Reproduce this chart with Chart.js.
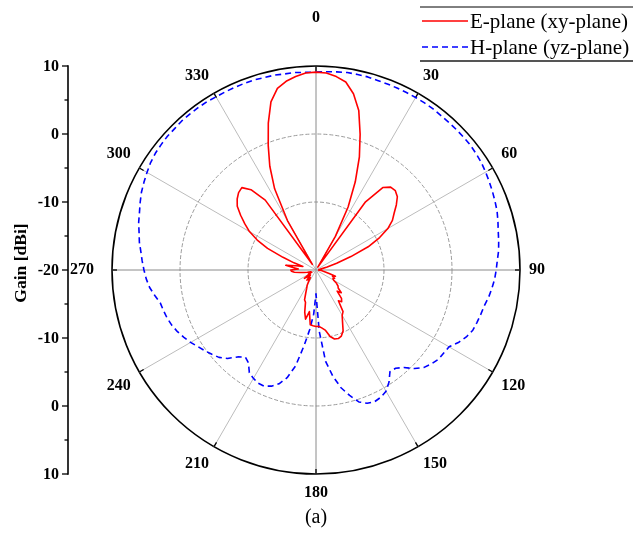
<!DOCTYPE html>
<html>
<head>
<meta charset="utf-8">
<script src="https://cdn.jsdelivr.net/npm/chart.js@4.4.1/dist/chart.umd.min.js"></script>
<style>
html,body{margin:0;padding:0;background:#fff;overflow:hidden}
#wrap{position:relative;width:633px;height:536px;overflow:hidden;background:#fff}
#c{position:absolute;left:0;top:-5px;width:633px;height:541px}
</style>
</head>
<body>
<div id="wrap"><canvas id="c" width="633" height="541"></canvas></div>
<script>
// ---- data (angle in degrees, gain in dBi) ----
const ANGLES = [0,3,6,9,12,15,18,21,24,27,30,33,36,39,42,45,48,51,54,57,
  60,63,66,69,72,75,78,81,84,87,90,93,96,99,102,105,108,111,114,117,
  120,123,126,129,132,135,138,141,144,147,150,153,156,159,162,165,168,171,174,177,
  180,183,186,189,192,195,198,201,204,207,210,213,216,219,222,225,228,231,234,237,
  240,243,246,249,252,255,258,261,264,267,270,273,276,279,282,285,288,291,294,297,
  300,303,306,309,312,315,318,321,324,327,330,333,336,339,342,345,348,351,354,357];

const ANGLE_TICKS = ['0','30','60','90','120','150','180','210','240','270','300','330'];

const E_PLANE = [9.1,9.0,8.6,8.0,6.5,4.3,1.0,-2.2,-5.8,-9.6,-14.3,-19.5,-7.6,-4.4,-3.6,-3.5,-3.9,-4.8,-5.8,-6.6,
  -7.8,-9.5,-11.6,-14.5,-16.8,-18.3,-19.2,-19.5,-19.3,-19.6,-19.4,-19.6,-19.2,-19.0,-18.6,-18.0,-17.0,-17.4,-17.0,-17.2,
  -17.0,-16.4,-16.0,-15.8,-15.0,-15.6,-14.4,-14.0,-14.4,-12.7,-12.3,-11.4,-10.2,-9.6,-9.4,-9.5,-10.0,-11.0,-11.4,-11.7,
  -11.7,-11.8,-11.9,-13.8,-12.6,-13.6,-15.0,-15.3,-16.3,-17.0,-17.4,-18.0,-18.6,-18.3,-18.0,-18.6,-18.9,-18.4,-17.9,-18.6,
  -19.0,-19.3,-19.0,-18.8,-19.2,-18.7,-18.2,-17.6,-16.8,-16.4,-16.3,-17.4,-16.6,-15.5,-17.0,-18.0,-16.6,-14.8,-12.2,-10.3,
  -8.7,-7.5,-6.3,-5.1,-4.4,-3.9,-3.7,-4.8,-7.3,-19.0,-11.6,-6.6,-3.3,-0.4,2.7,5.6,7.3,8.1,8.6,9.0];

const H_PLANE = [9.1,9.2,9.3,9.4,9.4,9.4,9.3,9.3,9.3,9.3,9.3,9.3,9.3,9.2,9.2,9.2,9.2,9.2,9.1,9.0,
  8.8,8.6,8.4,8.2,8.0,7.7,7.4,7.2,7.0,6.7,6.5,6.3,6.0,5.7,5.3,5.1,4.9,4.7,4.2,3.5,
  2.6,2.4,2.3,1.9,1.4,0.5,-0.7,-1.4,-1.5,-0.3,0.6,1.0,1.2,1.0,0.4,-0.9,-2.3,-4.2,-6.5,-11.0,
  -16.5,-13.5,-11.2,-8.7,-5.6,-3.6,-2.4,-1.7,-1.3,-1.3,-1.6,-2.0,-3.1,-3.5,-2.8,-1.6,-0.8,-0.3,0.2,0.7,
  1.3,1.8,2.3,2.7,3.0,3.2,3.4,4.0,4.6,5.0,5.3,5.6,5.9,6.3,6.6,7.0,7.3,7.7,8.1,8.4,
  8.7,9.0,9.2,9.3,9.4,9.4,9.5,9.5,9.5,9.5,9.4,9.4,9.4,9.4,9.4,9.3,9.3,9.2,9.2,9.1];

const GAIN_TICKS = [10, 0, -10, -20];
const GAIN_MINOR = [5, -5, -15];
const SERIES_NAMES = ['E-plane (xy-plane)', 'H-plane (yz-plane)'];
const AXIS_TITLE = 'Gain [dBi]';
const CAPTION = '(a)';

// ---- styling / layout ----
const OFFSET = 5;           // canvas is shifted up by 5px inside the page
const SERIF = "'Liberation Serif','Times New Roman',serif";

function labelPadding(ctx) {
  const a = ANGLES[ctx.index];
  if (a % 30 !== 0) return 0;
  if (a === 0) return 39;
  if (a === 270) return 18;
  if (a === 90) return 9;
  return 10;
}

const decorations = {
  id: 'decorations',
  beforeDatasetsDraw(chart) {
    const s = chart.scales.r, ctx = chart.ctx;
    const R = s.getDistanceFromCenterForValue(10);
    ctx.save();
    ctx.strokeStyle = '#000';
    ctx.lineWidth = 1.3;
    ANGLES.forEach((a, i) => {
      if (a % 30 !== 0) return;
      const p1 = s.getPointPosition(i, R - 5);
      const p2 = s.getPointPosition(i, R);
      ctx.beginPath();
      ctx.moveTo(p1.x, p1.y);
      ctx.lineTo(p2.x, p2.y);
      ctx.stroke();
    });
    ctx.restore();
  },
  afterDraw(chart) {
    const s = chart.scales.r, ctx = chart.ctx;
    const yc = s.yCenter;
    const ax = 68;
    ctx.save();
    // left gain axis
    const top = yc - s.getDistanceFromCenterForValue(10);
    const bot = yc + s.getDistanceFromCenterForValue(10);
    ctx.strokeStyle = '#000';
    ctx.lineWidth = 1.6;
    ctx.beginPath();
    ctx.moveTo(ax, top - 0.8);
    ctx.lineTo(ax, bot + 0.8);
    ctx.stroke();
    ctx.lineWidth = 1.3;
    ctx.font = 'bold 16px ' + SERIF;
    ctx.fillStyle = '#000';
    ctx.textAlign = 'right';
    ctx.textBaseline = 'middle';
    GAIN_TICKS.forEach(v => {
      const d = s.getDistanceFromCenterForValue(v);
      [yc - d, yc + d].forEach((y, k) => {
        if (k === 1 && d === 0) return;
        ctx.beginPath();
        ctx.moveTo(ax - 6, y);
        ctx.lineTo(ax, y);
        ctx.stroke();
        ctx.fillText(String(v), ax - 9, y + 1);
      });
    });
    GAIN_MINOR.forEach(v => {
      const d = s.getDistanceFromCenterForValue(v);
      [yc - d, yc + d].forEach(y => {
        ctx.beginPath();
        ctx.moveTo(ax - 3.5, y);
        ctx.lineTo(ax, y);
        ctx.stroke();
      });
    });
    // axis title
    ctx.save();
    ctx.translate(21, yc - 7);
    ctx.rotate(-Math.PI / 2);
    ctx.textAlign = 'center';
    ctx.font = 'bold 17.5px ' + SERIF;
    ctx.fillText(AXIS_TITLE, 0, 0);
    ctx.restore();

    // caption
    ctx.textAlign = 'center';
    ctx.font = '20px ' + SERIF;
    ctx.fillText(CAPTION, s.xCenter, 518 + OFFSET);

    // legend
    const lx = 420;
    ctx.strokeStyle = '#000';
    ctx.lineWidth = 1;
    ctx.beginPath();
    ctx.moveTo(lx, 7 + OFFSET);
    ctx.lineTo(633, 7 + OFFSET);
    ctx.stroke();
    ctx.strokeStyle = '#555';
    ctx.lineWidth = 2;
    ctx.beginPath();
    ctx.moveTo(lx, 61 + OFFSET);
    ctx.lineTo(633, 61 + OFFSET);
    ctx.stroke();
    const rows = [21, 47];
    chart.data.datasets.forEach((ds, i) => {
      const y = rows[i] + OFFSET;
      ctx.strokeStyle = ds.borderColor;
      ctx.lineWidth = 1.5;
      ctx.setLineDash(ds.borderDash || []);
      ctx.beginPath();
      ctx.moveTo(422, y);
      ctx.lineTo(468, y);
      ctx.stroke();
      ctx.setLineDash([]);
      ctx.fillStyle = '#000';
      ctx.textAlign = 'left';
      ctx.font = '21px ' + SERIF;
      ctx.fillText(ds.label, 470, y + 1);
    });
    ctx.restore();
  }
};

new Chart(document.getElementById('c'), {
  type: 'radar',
  data: {
    labels: ANGLES,
    datasets: [
      {
        label: SERIES_NAMES[0],
        data: E_PLANE,
        borderColor: '#ff0000',
        borderWidth: 1.6,
        fill: false,
        pointRadius: 0,
        tension: 0,
        borderJoinStyle: 'round'
      },
      {
        label: SERIES_NAMES[1],
        data: H_PLANE,
        borderColor: '#0000ff',
        borderWidth: 1.6,
        borderDash: [6, 4],
        fill: false,
        pointRadius: 0,
        tension: 0,
        borderJoinStyle: 'round'
      }
    ]
  },
  options: {
    responsive: false,
    animation: false,
    devicePixelRatio: 1,
    layout: { padding: { top: 0, bottom: 19, left: 6, right: 7 } },
    plugins: { legend: { display: false }, tooltip: { enabled: false } },
    events: [],
    scales: {
      r: {
        min: -20,
        max: 10,
        startAngle: 0,
        ticks: { display: false, stepSize: 10 },
        grid: {
          circular: true,
          color: c => (c.tick && c.tick.value === 10) ? '#000' : '#9a9a9a',
          lineWidth: c => (!c.tick || c.tick.value === -20) ? 0 : (c.tick.value === 10 ? 1.6 : 1)
        },
        border: {
          dash: c => (c.tick && c.tick.value === 10) ? [] : [4, 2]
        },
        angleLines: {
          display: true,
          color: c => (ANGLES[c.index] % 90 === 0) ? '#8a8a8a' : '#bcbcbc',
          lineWidth: c => (ANGLES[c.index] % 30 === 0) ? 1 : 0
        },
        pointLabels: {
          display: true,
          color: '#000',
          font: { family: SERIF, size: 16, weight: 'bold', lineHeight: 1.125 },
          padding: labelPadding,
          callback: (lbl, i) => (ANGLES[i] % 30 === 0) ? ANGLE_TICKS[ANGLES[i] / 30] : ''
        }
      }
    }
  },
  plugins: [decorations]
});
</script>
</body>
</html>
